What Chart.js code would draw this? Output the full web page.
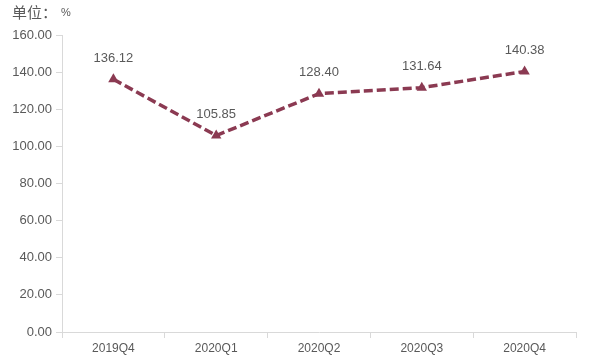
<!DOCTYPE html>
<html><head><meta charset="utf-8">
<script src="https://cdn.jsdelivr.net/npm/chart.js@4/dist/chart.umd.min.js"></script>
<style>html,body{margin:0;padding:0;background:#fff;}</style>
</head><body><canvas id="c" width="593" height="358" style="display:block;width:593px;height:358px"></canvas>
<script>
const categories = ['2019Q4','2020Q1','2020Q2','2020Q3','2020Q4'];
const values = [136.12, 105.85, 128.40, 131.64, 140.38];
const yTicks = [0,20,40,60,80,100,120,140,160];
const unitLabel = '单位：';
const unitSymbol = '%';

const FONT = '"Liberation Sans", Arial, sans-serif';
const LINE = '#8b3a52';

const labelPlugin = {
  id: 'labels',
  afterDatasetsDraw(chart) {
    const ctx = chart.ctx;
    const meta = chart.getDatasetMeta(0);
    ctx.save();
    ctx.font = '13px ' + FONT;
    ctx.fillStyle = '#595959';
    ctx.textAlign = 'center';
    ctx.textBaseline = 'middle';
    meta.data.forEach((p, i) => {
      ctx.fillText(values[i].toFixed(2), p.x, p.y - 21);
    });
    ctx.font = '15px "Noto Sans CJK SC", sans-serif';
    ctx.textAlign = 'left';
    ctx.fillStyle = '#595959';
    ctx.fillText(unitLabel, 12, 12);
    ctx.font = '11px ' + FONT;
    ctx.fillText(unitSymbol, 61, 13);
    ctx.restore();
  }
};

new Chart(document.getElementById('c'), {
  type: 'line',
  data: {
    labels: categories,
    datasets: [{
      data: values,
      borderColor: LINE,
      borderWidth: 3.5,
      borderDash: [9, 4],
      backgroundColor: LINE,
      pointStyle: 'triangle',
      pointRadius: 6,
      pointBackgroundColor: LINE,
      pointBorderColor: LINE,
      pointBorderWidth: 0,
      tension: 0,
      fill: false
    },{
      data: values,
      borderColor: 'rgba(255,235,240,0.85)',
      borderWidth: 1,
      borderDash: [9, 4],
      pointRadius: 0,
      tension: 0,
      fill: false
    }]
  },
  options: {
    responsive: false,
    animation: false,
    devicePixelRatio: 1,
    layout: { padding: { left: 0, right: 17, top: 35, bottom: 0 } },
    plugins: { legend: { display: false }, tooltip: { enabled: false } },
    scales: {
      x: {
        offset: true,
        grid: { offset: true, drawOnChartArea: false, drawTicks: true, tickLength: 6, color: '#d9d9d9', lineWidth: 1 },
        border: { color: '#d9d9d9', width: 1 },
        ticks: { color: '#595959', font: { size: 12, family: FONT }, padding: 3, maxRotation: 0, autoSkip: false },
        afterFit(s) { s.height = 26; }
      },
      y: {
        min: 0, max: 160,
        afterBuildTicks(s) { s.ticks = yTicks.map(v => ({ value: v })); },
        grid: { drawOnChartArea: false, drawTicks: true, tickLength: 6, color: '#d9d9d9' },
        border: { color: '#d9d9d9', width: 1 },
        ticks: { color: '#595959', font: { size: 13, family: FONT }, padding: 4, callback: v => v.toFixed(2) },
        afterFit(s) { s.width = 62; }
      }
    }
  },
  plugins: [labelPlugin]
});
</script>
</body></html>
